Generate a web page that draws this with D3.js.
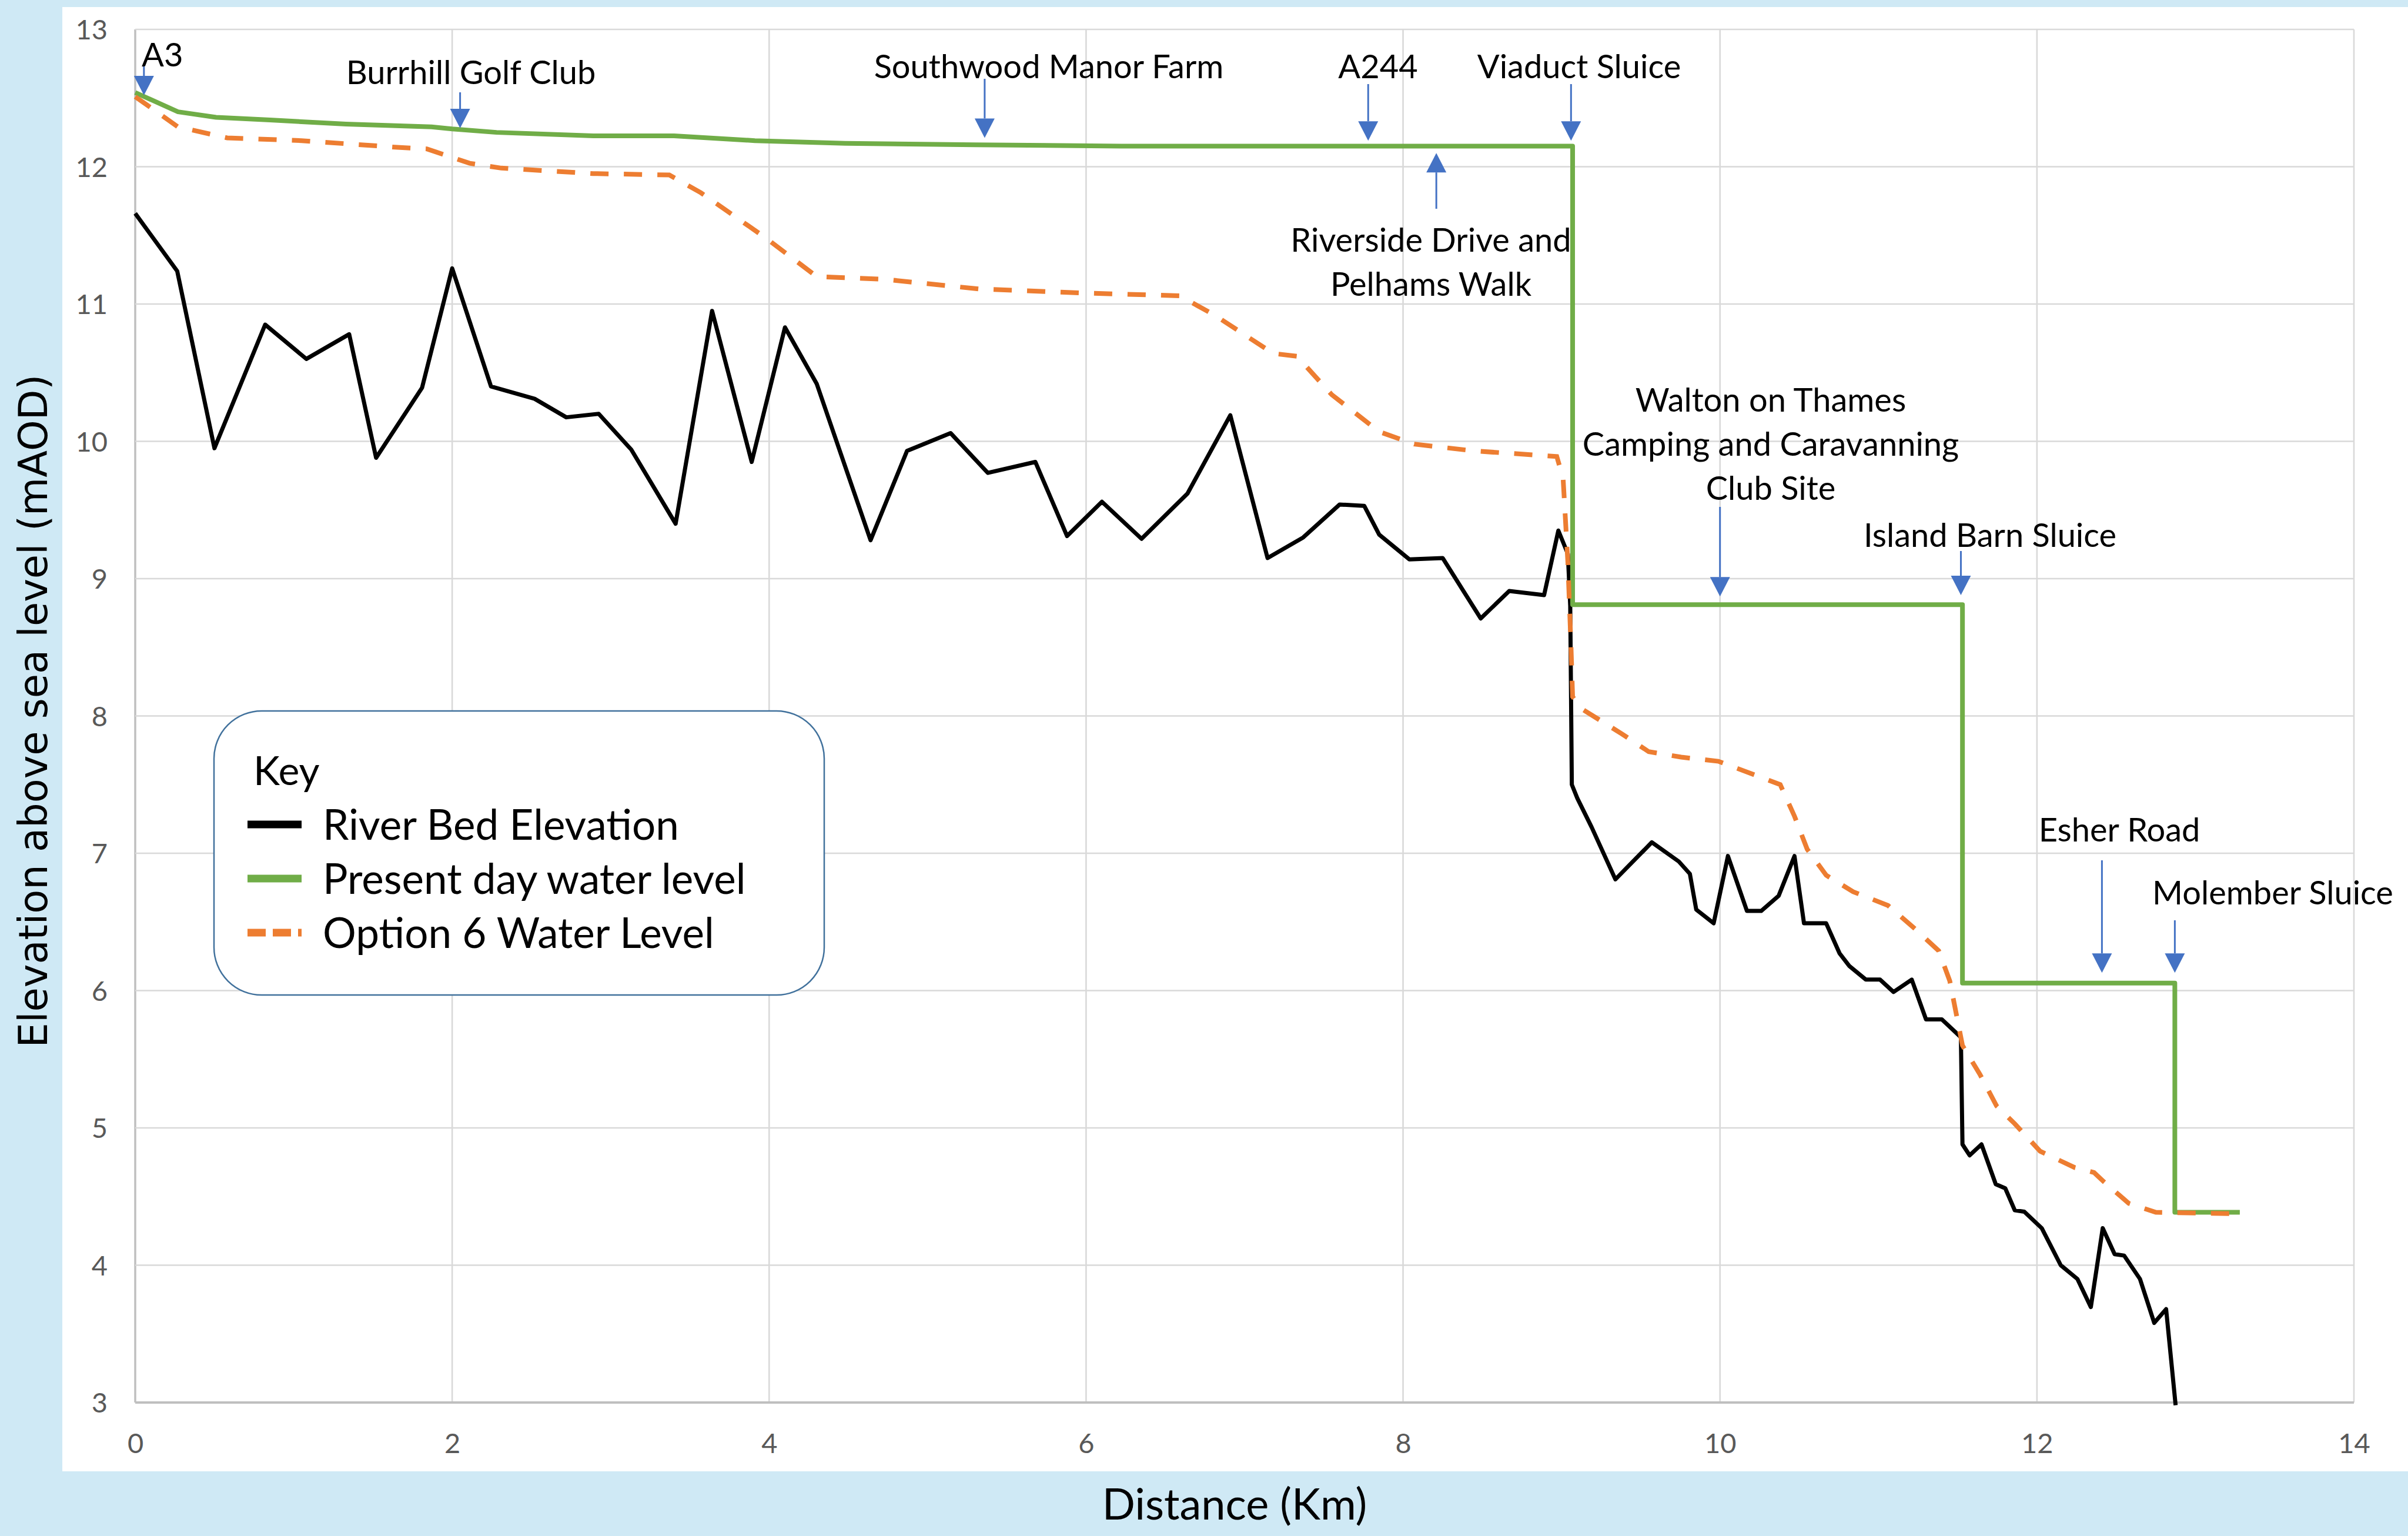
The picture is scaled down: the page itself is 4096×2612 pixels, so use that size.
<!DOCTYPE html>
<html>
<head>
<meta charset="utf-8">
<script src="https://cdn.jsdelivr.net/npm/d3@7"></script>
<style>
  body { margin: 0; background: #cfe9f5; }
  svg { display: block; }
</style>
</head>
<body>
<div id="chart"></div>
<script>
////////////////////////////////////////////////////////////////////////
// Data (distance in km, levels in mAOD)

const bedKm = [0, 0.265, 0.5, 0.82, 1.08, 1.35, 1.52, 1.81, 2.0, 2.245, 2.52, 2.72, 2.925, 3.13, 3.41,
  3.64, 3.89, 4.10, 4.30, 4.64, 4.87, 5.145, 5.38, 5.68, 5.88, 6.10, 6.35, 6.64, 6.91, 7.145, 7.37,
  7.60, 7.755, 7.85, 8.04, 8.25, 8.49, 8.67, 8.89, 8.98, 9.04, 9.055, 9.065, 9.10, 9.19, 9.34, 9.57,
  9.74, 9.81, 9.85, 9.96, 10.05, 10.17, 10.26, 10.37, 10.47, 10.53, 10.67, 10.755, 10.815, 10.92,
  11.01, 11.095, 11.21, 11.30, 11.40, 11.52, 11.53, 11.575, 11.65, 11.74, 11.80, 11.86, 11.92, 12.03,
  12.15, 12.255, 12.34, 12.415, 12.49, 12.55, 12.65, 12.74, 12.815, 12.875];
const bedLevel = [11.66, 11.24, 9.95, 10.85, 10.6, 10.78, 9.88, 10.39, 11.26, 10.4, 10.31, 10.175, 10.2, 9.94, 9.40,
  10.95, 9.85, 10.83, 10.42, 9.28, 9.93, 10.06, 9.77, 9.85, 9.31, 9.56, 9.29, 9.62, 10.19, 9.15, 9.30,
  9.54, 9.53, 9.32, 9.14, 9.15, 8.71, 8.91, 8.88, 9.35, 9.18, 8.80, 7.50, 7.40, 7.19, 6.81, 7.08,
  6.94, 6.85, 6.59, 6.49, 6.98, 6.58, 6.58, 6.69, 6.98, 6.49, 6.49, 6.27, 6.18, 6.08,
  6.08, 5.99, 6.08, 5.79, 5.79, 5.66, 4.88, 4.80, 4.88, 4.59, 4.56, 4.40, 4.39, 4.27,
  4.0, 3.90, 3.695, 4.27, 4.08, 4.07, 3.90, 3.58, 3.68, 2.98];

const presentKm = [0, 0.27, 0.51, 0.85, 1.33, 1.87, 2.0, 2.28, 2.89, 3.40, 3.91, 4.48, 5.3, 6.22,
  9.07, 9.07, 11.53, 11.53, 12.87, 12.87, 13.28];
const presentLevel = [12.54, 12.40, 12.36, 12.34, 12.31, 12.29, 12.275, 12.25, 12.225, 12.225, 12.19, 12.17, 12.16, 12.15,
  12.15, 8.81, 8.81, 6.055, 6.055, 4.385, 4.385];

const optionKm = [0, 0.27, 0.58, 1.05, 1.67, 1.84, 2.11, 2.31, 2.89, 3.37, 3.57, 3.98, 4.30, 4.73,
  5.32, 5.99, 6.59, 6.81, 7.18, 7.33, 7.55, 7.85, 8.07, 8.45, 8.97, 9.01, 9.04, 9.06, 9.07, 9.13,
  9.38, 9.55, 9.755, 9.99, 10.38, 10.47, 10.55, 10.67, 10.84, 11.06, 11.23, 11.38, 11.45, 11.53,
  11.64, 11.745, 11.86, 12.02, 12.24, 12.36, 12.42, 12.58, 12.75, 13.28];
const optionLevel = [12.51, 12.29, 12.21, 12.19, 12.14, 12.13, 12.025, 11.99, 11.95, 11.94, 11.81, 11.48, 11.20, 11.18,
  11.11, 11.08, 11.06, 10.92, 10.64, 10.62, 10.34, 10.07, 9.98, 9.93, 9.89, 9.73, 9.12, 8.50, 8.14, 8.05,
  7.87, 7.74, 7.70, 7.67, 7.50, 7.27, 7.03, 6.84, 6.72, 6.62, 6.45, 6.29, 6.07, 5.60,
  5.39, 5.16, 5.03, 4.83, 4.71, 4.675, 4.61, 4.45, 4.385, 4.375];

// Sites marked along the reach: name lines, chainage and level the arrow points at
const siteNames = [["A3"], ["Burrhill Golf Club"], ["Southwood Manor Farm"], ["A244"], ["Viaduct Sluice"],
  ["Riverside Drive and", "Pelhams Walk"], ["Walton on Thames", "Camping and Caravanning", "Club Site"],
  ["Island Barn Sluice"], ["Esher Road"], ["Molember Sluice"]];
const siteKm = [0.055, 2.05, 5.36, 7.78, 9.06, 8.21, 10.0, 11.52, 12.41, 12.87];
const siteLevel = [12.52, 12.28, 12.21, 12.19, 12.19, 12.10, 8.87, 8.88, 6.13, 6.13];

const xTicks = [0, 2, 4, 6, 8, 10, 12, 14];
const yTicks = [3, 4, 5, 6, 7, 8, 9, 10, 11, 12, 13];

const seriesNames = ["River Bed Elevation", "Present day water level", "Option 6 Water Level"];

////////////////////////////////////////////////////////////////////////
// Layout

const width = 4096, height = 2612;
const plot = { left: 230, right: 4004, top: 50, bottom: 2385 };
const textFont = "Lato, 'Open Sans', sans-serif";

const svg = d3.select("#chart").append("svg")
  .attr("width", width)
  .attr("height", height);

svg.append("rect")
  .attr("width", width).attr("height", height)
  .attr("fill", "#cfe9f5");

// white chart panel
svg.append("rect")
  .attr("x", 106).attr("y", 12)
  .attr("width", width - 106).attr("height", 2490)
  .attr("fill", "#ffffff");

const xScale = d3.scaleLinear().domain([0, 14]).range([plot.left, plot.right]);
const yScale = d3.scaleLinear().domain([3, 13]).range([plot.bottom, plot.top]);

// gridlines
svg.append("g")
  .selectAll("line")
  .data(xTicks)
  .join("line")
  .attr("x1", d => xScale(d)).attr("x2", d => xScale(d))
  .attr("y1", plot.top).attr("y2", plot.bottom)
  .attr("stroke", d => d === 0 ? "#bfbfbf" : "#d9d9d9")
  .attr("stroke-width", d => d === 0 ? 3.5 : 2.6);

svg.append("g")
  .selectAll("line")
  .data(yTicks)
  .join("line")
  .attr("x1", plot.left).attr("x2", plot.right)
  .attr("y1", d => yScale(d)).attr("y2", d => yScale(d))
  .attr("stroke", d => d === 3 ? "#bfbfbf" : "#d9d9d9")
  .attr("stroke-width", d => d === 3 ? 4 : 2.6);

// axes (labels only, the lines come from the grid)
const xAxis = svg.append("g")
  .attr("transform", `translate(0, ${plot.bottom})`)
  .call(d3.axisBottom(xScale).tickValues(xTicks).tickSize(0).tickPadding(0));
xAxis.select(".domain").remove();
xAxis.selectAll("text")
  .attr("y", 86)
  .attr("dy", null)
  .attr("font-family", textFont)
  .attr("font-size", 47)
  .attr("fill", "#595959");

const yAxis = svg.append("g")
  .attr("transform", `translate(${plot.left}, 0)`)
  .call(d3.axisLeft(yScale).tickValues(yTicks).tickSize(0).tickPadding(0));
yAxis.select(".domain").remove();
yAxis.selectAll("text")
  .attr("x", -47)
  .attr("dy", "0.36em")
  .attr("font-family", textFont)
  .attr("font-size", 47)
  .attr("fill", "#595959");

// axis titles
svg.append("text")
  .attr("transform", "translate(57, 1209) rotate(-90)")
  .attr("text-anchor", "middle")
  .attr("dominant-baseline", "central")
  .attr("font-family", "'DejaVu Sans', Verdana, sans-serif")
  .attr("font-size", 67)
  .attr("fill", "#000")
  .text("Elevation above sea level (mAOD)");

svg.append("text")
  .attr("x", 2100).attr("y", 2584)
  .attr("text-anchor", "middle")
  .attr("font-family", textFont)
  .attr("font-size", 74)
  .attr("fill", "#000")
  .text("Distance (Km)");

////////////////////////////////////////////////////////////////////////
// Series

const line = d3.line()
  .x(d => xScale(d[0]))
  .y(d => yScale(d[1]));

const bed = d3.zip(bedKm, bedLevel);
const present = d3.zip(presentKm, presentLevel);
const option = d3.zip(optionKm, optionLevel);

svg.append("path")
  .datum(bed)
  .attr("d", line)
  .attr("fill", "none")
  .attr("stroke", "#000000")
  .attr("stroke-width", 7)
  .attr("stroke-linejoin", "round");

svg.append("path")
  .datum(present)
  .attr("d", line)
  .attr("fill", "none")
  .attr("stroke", "#70ad47")
  .attr("stroke-width", 8)
  .attr("stroke-linejoin", "round");

svg.append("path")
  .datum(option)
  .attr("d", line)
  .attr("fill", "none")
  .attr("stroke", "#ed7d31")
  .attr("stroke-width", 8)
  .attr("stroke-dasharray", "31,26");

////////////////////////////////////////////////////////////////////////
// Site annotations: label position and arrow tail for each site (pixels)

const labelLayout = [
  { x: 241, y: 113, anchor: "start", tail: 113 },
  { x: 801, y: 143, anchor: "middle", tail: 157 },
  { x: 1784, y: 133, anchor: "middle", tail: 134 },
  { x: 2344, y: 133, anchor: "middle", tail: 143 },
  { x: 2686, y: 133, anchor: "middle", tail: 143 },
  { x: 2434, y: 428, anchor: "middle", tail: 355, up: true },
  { x: 3012, y: 700, anchor: "middle", tail: 862 },
  { x: 3385, y: 930, anchor: "middle", tail: 937 },
  { x: 3605, y: 1431, anchor: "middle", tail: 1463 },
  { x: 3866, y: 1538, anchor: "middle", tail: 1565 }
];
const lineStep = 75;
const headH = 33, headW = 17;
const arrowBlue = "#4472c4";

const sites = svg.append("g").attr("class", "sites");

siteNames.forEach((names, i) => {
  const lay = labelLayout[i];
  const x = xScale(siteKm[i]);
  const tip = yScale(siteLevel[i]);
  const g = sites.append("g");

  if (lay.up) {
    g.append("line")
      .attr("x1", x).attr("x2", x)
      .attr("y1", tip + headH).attr("y2", lay.tail)
      .attr("stroke", arrowBlue).attr("stroke-width", 3);
    g.append("path")
      .attr("d", `M${x},${tip} L${x - headW},${tip + headH} L${x + headW},${tip + headH} Z`)
      .attr("fill", arrowBlue);
  } else {
    g.append("line")
      .attr("x1", x).attr("x2", x)
      .attr("y1", lay.tail).attr("y2", tip - headH)
      .attr("stroke", arrowBlue).attr("stroke-width", 3);
    g.append("path")
      .attr("d", `M${x},${tip} L${x - headW},${tip - headH} L${x + headW},${tip - headH} Z`)
      .attr("fill", arrowBlue);
  }

  g.selectAll("text")
    .data(names)
    .join("text")
    .attr("x", lay.x)
    .attr("y", (d, k) => lay.y + k * lineStep)
    .attr("text-anchor", lay.anchor)
    .attr("font-family", textFont)
    .attr("font-size", 56)
    .attr("fill", "#000")
    .text(d => d);
});

////////////////////////////////////////////////////////////////////////
// Key

const key = svg.append("g").attr("class", "key");

key.append("rect")
  .attr("x", 364).attr("y", 1209)
  .attr("width", 1038).attr("height", 483)
  .attr("rx", 81).attr("ry", 81)
  .attr("fill", "#ffffff")
  .attr("stroke", "#41719c")
  .attr("stroke-width", 2.5);

key.append("text")
  .attr("x", 431).attr("y", 1335)
  .attr("font-family", textFont)
  .attr("font-size", 68)
  .attr("fill", "#000")
  .text("Key");

const keyColors = ["#000000", "#70ad47", "#ed7d31"];
const keyDash = [null, null, "31,12"];

const rows = key.selectAll("g.row")
  .data(seriesNames)
  .join("g")
  .attr("class", "row")
  .attr("transform", (d, i) => `translate(0, ${1402 + i * 92})`);

rows.append("line")
  .attr("x1", 421).attr("x2", 513)
  .attr("stroke", (d, i) => keyColors[i])
  .attr("stroke-width", 13)
  .attr("stroke-dasharray", (d, i) => keyDash[i]);

rows.append("text")
  .attr("x", 549).attr("y", 26)
  .attr("font-family", textFont)
  .attr("font-size", 71)
  .attr("fill", "#000")
  .text(d => d);
</script>
</body>
</html>
